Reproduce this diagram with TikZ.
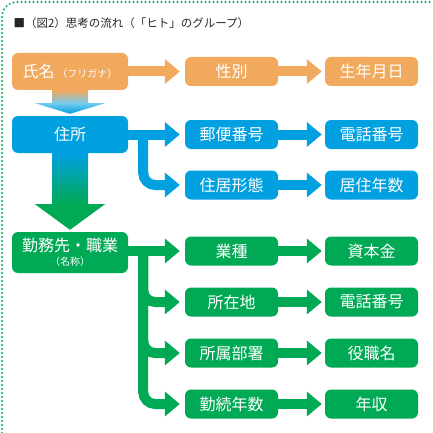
\documentclass[tikz,border=0pt]{standalone}
\usepackage{fontspec}
\newfontfamily\jp{Noto Sans CJK JP}
\usetikzlibrary{arrows.meta,calc}
\definecolor{hitoorange}{RGB}{241,169,94}
\definecolor{hitoblue}{RGB}{0,160,225}
\definecolor{hitogreen}{RGB}{0,170,85}
\begin{document}
\begin{tikzpicture}[x=1pt,y=-1pt]
        \tikzset{
            box/.style={rounded corners=6pt,minimum width=93pt,minimum height=29pt,inner sep=0pt,
                text=white,font=\jp\fontsize{16}{16}\selectfont},
            mainbox/.style={box,minimum width=116pt,minimum height=37pt},
            flow/.style={line width=10pt,-{Triangle[length=15pt,width=24pt]}}
        }
        \useasboundingbox (0,0) rectangle (432,433);
        \draw[hitogreen,line width=2.2pt,line cap=round,dash pattern=on 0pt off 4pt,rounded corners=15pt]
            (2,433) |- (432,2);
        \node[anchor=west,font=\jp\fontsize{11.5}{12}\selectfont,text=black!85] (title) at (10,23)
            {■（図2）思考の流れ（「ヒト」のグループ）};

        \node[mainbox,fill=hitoorange] (name) at (70,71.5) {氏名\,{\fontsize{10}{10}\selectfont（フリガナ）}};
        \node[mainbox,fill=hitoblue] (addr) at (70,134.5) {住所};
        \node[mainbox,fill=hitogreen,minimum height=41pt,align=center] (work) at (70,252.5)
            {勤務先・職業\\[-2pt]{\fontsize{10}{11}\selectfont（名称）}};

        \node[box,fill=hitoorange] (sex) at (231.5,71.5) {性別};
        \node[box,fill=hitoorange] (birth) at (371.5,71.5) {生年月日};

        \node[box,fill=hitoblue] (post) at (231.5,134.5) {郵便番号};
        \node[box,fill=hitoblue] (tel) at (371.5,134.5) {電話番号};
        \node[box,fill=hitoblue] (house) at (231.5,185) {住居形態};
        \node[box,fill=hitoblue] (stay) at (371.5,185) {居住年数};

        \node[box,fill=hitogreen] (kind) at (231.5,251) {業種};
        \node[box,fill=hitogreen] (capital) at (371.5,251) {資本金};
        \node[box,fill=hitogreen] (loc) at (231.5,302) {所在地};
        \node[box,fill=hitogreen] (loctel) at (371.5,302) {電話番号};
        \node[box,fill=hitogreen] (dept) at (231.5,353) {所属部署};
        \node[box,fill=hitogreen] (post2) at (371.5,353) {役職名};
        \node[box,fill=hitogreen] (years) at (231.5,404) {勤続年数};
        \node[box,fill=hitogreen] (income) at (371.5,404) {年収};

        % fat arrows down the left column
        \shade[top color=hitoorange,bottom color=hitoblue!55]
            ($(name.south)+(-18,0)$) rectangle ($(name.south)+(18,13)$);
        \shade[top color=hitoblue!55,bottom color=hitoblue]
            ($(name.south)+(-35,13)$) -- ($(name.south)+(35,13)$) -- ($(addr.north)+(0,-2)$) -- cycle;
        \shade[top color=hitoblue,bottom color=hitogreen]
            ($(addr.south)+(-18,0)$) rectangle ($(addr.south)+(18,51)$);
        \fill[hitogreen]
            ($(addr.south)+(-35,51)$) -- ($(addr.south)+(35,51)$) -- ($(work.north)+(0,-2)$) -- cycle;

        \draw[flow,hitoorange,shorten >=5pt] (name) -- (sex);
        \draw[flow,hitoorange,shorten >=3pt] (sex) -- (birth);

        \draw[flow,hitoblue,shorten >=5pt] (addr) -- (post);
        \draw[flow,hitoblue,shorten >=5pt,rounded corners=12pt] ([xshift=15pt]addr.east) |- (house.west);
        \draw[flow,hitoblue,shorten >=3pt] (post) -- (tel);
        \draw[flow,hitoblue,shorten >=3pt] (house) -- (stay);

        \draw[flow,hitogreen,shorten >=5pt] (work.east |- kind) -- (kind);
        \foreach \b in {loc,dept,years}{
                \draw[flow,hitogreen,shorten >=5pt,rounded corners=12pt] ([xshift=15pt]work.east |- kind) |- (\b.west);
            }
        \foreach \a/\b in {kind/capital,loc/loctel,dept/post2,years/income}{
                \draw[flow,hitogreen,shorten >=3pt] (\a) -- (\b);
            }

    \end{tikzpicture}
\end{document}
